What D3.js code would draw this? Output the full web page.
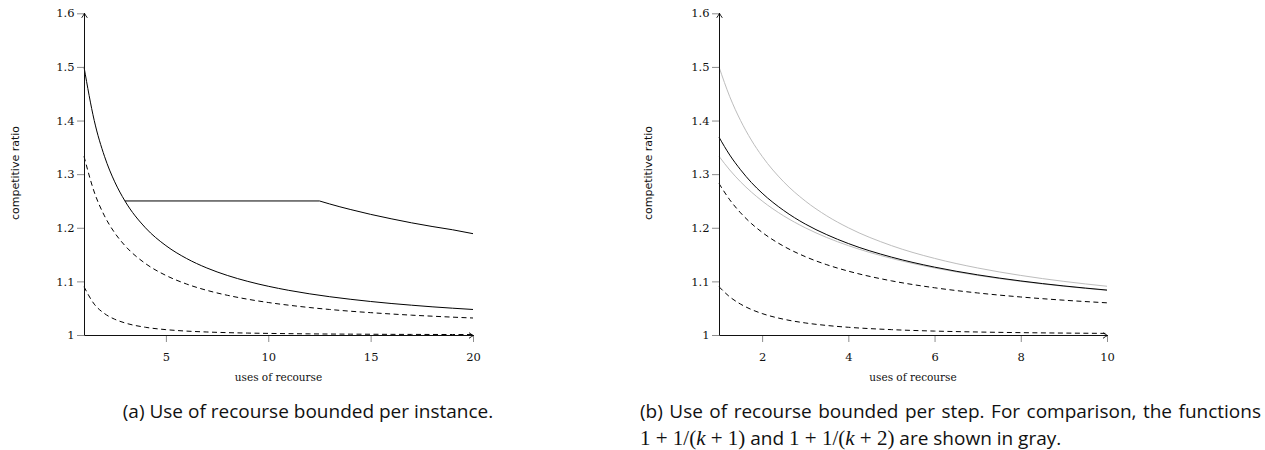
<!DOCTYPE html>
<html>
<head>
<meta charset="utf-8">
<script src="https://cdn.jsdelivr.net/npm/d3@7"></script>
<style>
  body { margin: 0; background: #fff; }
</style>
</head>
<body>
<div id="chart"></div>
<script>
// (a) recourse bounded per instance
const kInst = [1, 1.5, 2, 2.5, 3, 4, 5, 6, 7, 8, 9, 10, 11, 12, 13, 14, 15, 16, 17, 18, 19, 20];
const solidInst = [1.5, 1.4, 1.3333, 1.2857, 1.25, 1.2, 1.1667, 1.1429, 1.125, 1.1111, 1.1, 1.0909, 1.0833, 1.0769, 1.0714, 1.0667, 1.0625, 1.0588, 1.0556, 1.0526, 1.05, 1.0476];
const dashHighInst = [1.3333, 1.2667, 1.2222, 1.1905, 1.1667, 1.1333, 1.1111, 1.0952, 1.0833, 1.0741, 1.0667, 1.0606, 1.0556, 1.0513, 1.0476, 1.0444, 1.0417, 1.0392, 1.037, 1.0351, 1.0333, 1.0317];
const dashLowInst = [1.09, 1.0576, 1.04, 1.0294, 1.0225, 1.0144, 1.01, 1.0073, 1.0056, 1.0044, 1.0036, 1.003, 1.0025, 1.0021, 1.0018, 1.0016, 1.0014, 1.0012, 1.0011, 1.001, 1.0009, 1.0008];
const kPlateau = [3, 12.5, 13, 13.5, 14, 15, 16, 17, 18, 19, 20];
const plateauInst = [1.25, 1.25, 1.2444, 1.2391, 1.2342, 1.225, 1.2168, 1.2092, 1.2024, 1.1963, 1.189];

// (b) recourse bounded per step
const kStep = [1, 1.25, 1.5, 1.75, 2, 2.5, 3, 3.5, 4, 5, 6, 7, 8, 9, 10];
const grayHighStep = [1.5, 1.4444, 1.4, 1.3636, 1.3333, 1.2857, 1.25, 1.2222, 1.2, 1.1667, 1.1429, 1.125, 1.1111, 1.1, 1.0909];
const grayLowStep = [1.3333, 1.3077, 1.2857, 1.2667, 1.25, 1.2222, 1.2, 1.1818, 1.1667, 1.1429, 1.125, 1.1111, 1.1, 1.0909, 1.0833];
const solidStep = [1.369, 1.3356, 1.3082, 1.2845, 1.2646, 1.2323, 1.207, 1.1871, 1.1706, 1.1453, 1.1266, 1.1122, 1.1008, 1.0915, 1.0838];
const dashHighStep = [1.2825, 1.2521, 1.2279, 1.208, 1.1915, 1.1656, 1.1462, 1.1311, 1.1191, 1.101, 1.0881, 1.0784, 1.0709, 1.0649, 1.06];
const dashLowStep = [1.09, 1.0711, 1.0576, 1.0476, 1.04, 1.0294, 1.0225, 1.0178, 1.0144, 1.01, 1.0073, 1.0056, 1.0044, 1.0036, 1.003];

const yTicks = [1, 1.1, 1.2, 1.3, 1.4, 1.5, 1.6];
const xTicksInst = [5, 10, 15, 20];
const xTicksStep = [2, 4, 6, 8, 10];

const xLabel = "uses of recourse";
const yLabel = "competitive ratio";
const captionA = "(a) Use of recourse bounded per instance.";
const captionB1 = "(b) Use of recourse bounded per step. For comparison, the functions";

const svg = d3.select("#chart")
    .append("svg")
    .attr("width", 1265)
    .attr("height", 450);

svg.append("defs").append("marker")
    .attr("id", "arrow")
    .attr("viewBox", "-6 -4 8 8")
    .attr("refX", 0).attr("refY", 0)
    .attr("markerWidth", 8).attr("markerHeight", 8)
    .attr("markerUnits", "userSpaceOnUse")
    .attr("orient", "auto")
    .append("path")
    .attr("d", "M-4.5,-2.8 Q-1.6,-0.7 0,0 Q-1.6,0.7 -4.5,2.8")
    .attr("fill", "none")
    .attr("stroke", "#000")
    .attr("stroke-width", 0.9);

const y = d3.scaleLinear().domain([1, 1.6]).range([335, 13.3]);

function drawPanel(x, xTicks, yLabelX, series) {
    const g = svg.append("g");

    // curves
    series.forEach(s => {
        const line = d3.line()
            .x(d => x(d[0]))
            .y(d => y(d[1]))
            .curve(s.curve || d3.curveMonotoneX);
        g.append("path")
            .datum(d3.zip(s.k, s.v))
            .attr("d", line)
            .attr("fill", "none")
            .attr("stroke", s.color)
            .attr("stroke-width", s.width || 1)
            .attr("stroke-dasharray", s.dash || null);
    });

    // axes
    const xAxis = g.append("g")
        .attr("transform", `translate(0,${y(1)})`)
        .call(d3.axisBottom(x).tickValues(xTicks).tickSize(7).tickPadding(11).tickSizeOuter(0));
    const yAxis = g.append("g")
        .attr("transform", `translate(${x(1)},0)`)
        .call(d3.axisLeft(y).tickValues(yTicks)
            .tickFormat(d => d === 1 ? "1" : d3.format(".1f")(d))
            .tickSize(7).tickPadding(2.5).tickSizeOuter(0));
    [xAxis, yAxis].forEach(a => {
        a.attr("font-family", "DejaVu Serif").attr("font-size", 11.5);
        a.select(".domain").remove();
        a.selectAll(".tick line").attr("stroke", "#8c8c8c");
        a.selectAll(".tick text").attr("fill", "#111");
    });

    // axis lines with arrows
    g.append("line")
        .attr("x1", x(1) + 0.5).attr("y1", y(1) + 0.5)
        .attr("x2", x.range()[1] + 0.5).attr("y2", y(1) + 0.5)
        .attr("stroke", "#111").attr("stroke-width", 1)
        .attr("marker-end", "url(#arrow)");
    g.append("line")
        .attr("x1", x(1) + 0.5).attr("y1", y(1) + 0.5)
        .attr("x2", x(1) + 0.5).attr("y2", y(1.6))
        .attr("stroke", "#111").attr("stroke-width", 1)
        .attr("marker-end", "url(#arrow)");

    // labels
    g.append("text")
        .attr("x", (x.range()[0] + x.range()[1]) / 2)
        .attr("y", 381)
        .attr("text-anchor", "middle")
        .attr("font-family", "DejaVu Serif")
        .attr("font-size", 10.5)
        .attr("fill", "#111")
        .text(xLabel);
    g.append("text")
        .attr("transform", `translate(${yLabelX},173) rotate(-90)`)
        .attr("text-anchor", "middle")
        .attr("font-family", "DejaVu Sans")
        .attr("font-size", 11)
        .attr("fill", "#111")
        .text(yLabel);
}

const xInst = d3.scaleLinear().domain([1, 20]).range([84, 473]);
drawPanel(xInst, xTicksInst, 19, [
    {k: kInst, v: solidInst, color: "#000"},
    {k: kPlateau, v: plateauInst, color: "#000", curve: d3.curveLinear},
    {k: kInst, v: dashHighInst, color: "#000", dash: "5,3.5"},
    {k: kInst, v: dashLowInst, color: "#000", dash: "5,3.5"}
]);

const xStep = d3.scaleLinear().domain([1, 10]).range([719, 1107]);
drawPanel(xStep, xTicksStep, 652, [
    {k: kStep, v: grayHighStep, color: "#bdbdbd"},
    {k: kStep, v: grayLowStep, color: "#bdbdbd"},
    {k: kStep, v: solidStep, color: "#000"},
    {k: kStep, v: dashHighStep, color: "#000", dash: "5,3.5"},
    {k: kStep, v: dashLowStep, color: "#000", dash: "5,3.5"}
]);

// captions
const capFont = "Open Sans";
svg.append("text")
    .attr("x", 308).attr("y", 418)
    .attr("text-anchor", "middle")
    .attr("font-family", capFont).attr("font-size", 19)
    .attr("fill", "#111")
    .text(captionA);

// first line of (b) is justified to the text width
const b1 = svg.append("text")
    .attr("x", 640).attr("y", 418)
    .attr("font-family", capFont).attr("font-size", 19)
    .attr("fill", "#111")
    .text(captionB1);
const b1w = b1.node().getComputedTextLength();
const gaps = captionB1.split(" ").length - 1;
if (b1w < 621) {
    b1.attr("word-spacing", (621 - b1w) / gaps);
} else if (b1w > 621) {
    b1.attr("textLength", 621).attr("lengthAdjust", "spacingAndGlyphs");
}

// second line: math in serif, k in italic
const b2 = svg.append("text")
    .attr("x", 640).attr("y", 445)
    .attr("font-family", capFont).attr("font-size", 19)
    .attr("fill", "#111");
const mathParts = [
    {t: "1 + 1/(", m: true}, {t: "k", m: true, i: true}, {t: " + 1)", m: true},
    {t: " and "},
    {t: "1 + 1/(", m: true}, {t: "k", m: true, i: true}, {t: " + 2)", m: true},
    {t: " are shown in gray."}
];
mathParts.forEach(p => {
    const ts = b2.append("tspan").text(p.t);
    if (p.m) ts.attr("font-family", "Liberation Serif").attr("font-size", 21);
    if (p.i) ts.attr("font-style", "italic");
});
</script>
</body>
</html>
